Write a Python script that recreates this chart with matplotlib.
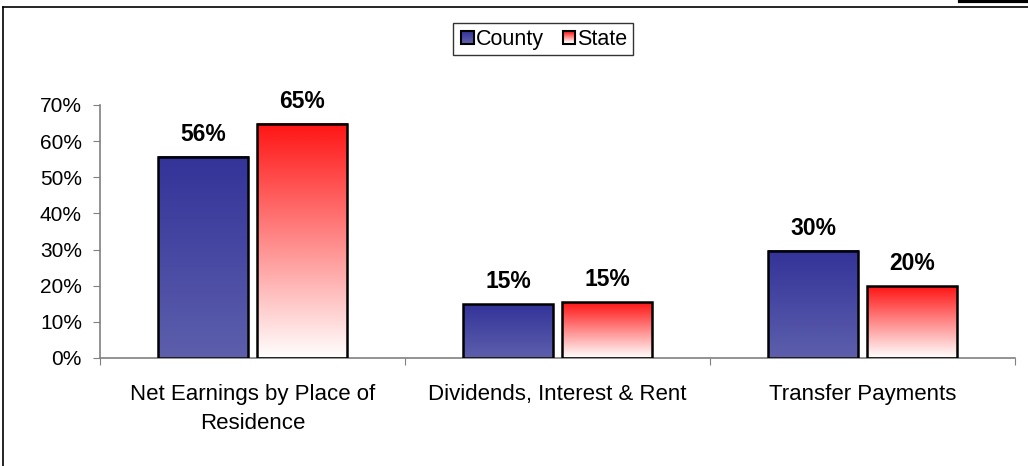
import numpy as np
import matplotlib
matplotlib.use("Agg")
import matplotlib.pyplot as plt
from matplotlib.patches import Rectangle
from matplotlib.lines import Line2D
from matplotlib.legend_handler import HandlerBase
from matplotlib.colors import LinearSegmentedColormap

plt.rcParams['font.family'] = ['Liberation Sans', 'DejaVu Sans']

categories = ["Net Earnings by Place of\nResidence",
              "Dividends, Interest & Rent",
              "Transfer Payments"]
county = [55.7, 14.8, 29.7]
state = [64.8, 15.4, 19.8]
county_labels = ["56%", "15%", "30%"]
state_labels = ["65%", "15%", "20%"]
yticks = [0, 10, 20, 30, 40, 50, 60, 70]

# gradients (bottom colour -> top colour)
county_cmap = LinearSegmentedColormap.from_list("cty", ["#5d5fac", "#333399"])
state_cmap = LinearSegmentedColormap.from_list("st", ["#ffffff", "#ff1414"])


class GradientHandler(HandlerBase):
    def __init__(self, cmap):
        super().__init__()
        self.cmap = cmap

    def create_artists(self, legend, orig_handle, xdescent, ydescent,
                       width, height, fontsize, trans):
        side = height * 0.85
        x0 = -xdescent + width - side
        y0 = -ydescent + (height - side) / 2
        arts = []
        n = 12
        for i in range(n):
            arts.append(Rectangle((x0, y0 + side * i / n), side, side / n + 0.01,
                                  facecolor=self.cmap(i / (n - 1)), edgecolor="none",
                                  transform=trans))
        arts.append(Rectangle((x0, y0), side, side, facecolor="none",
                              edgecolor="black", lw=1.5, transform=trans))
        return arts


fig = plt.figure(figsize=(10.28, 4.66), dpi=100)
ax = fig.add_axes([0.0973, 0.2318, 0.8905, 0.5429])

x = np.arange(len(categories))
w = 0.295
off = 0.162

grad = np.linspace(0, 1, 256).reshape(-1, 1)
for xs, vals, cmap in [(x - off, county, county_cmap), (x + off, state, state_cmap)]:
    bars = ax.bar(xs, vals, w, facecolor="none", edgecolor="black", lw=1.8, zorder=3)
    for b in bars:
        x0, x1 = b.get_x(), b.get_x() + b.get_width()
        ax.imshow(grad, cmap=cmap, extent=(x0, x1, 0, b.get_height()),
                  aspect="auto", origin="lower", zorder=2, interpolation="bicubic")

for xs, vals, labs in [(x - off, county, county_labels), (x + off, state, state_labels)]:
    for xi, v, lab in zip(xs, vals, labs):
        ax.annotate(lab, (xi, v), xytext=(0, 8), textcoords="offset points",
                    ha="center", va="bottom", fontsize=16.5, fontweight="bold")

ax.set_xlim(-0.5, 2.5)
ax.set_ylim(0, 70)
ax.set_yticks(yticks)
ax.set_yticklabels([f"{t}%" for t in yticks], fontsize=15)
ax.set_xticks([-0.5, 0.5, 1.5, 2.5])
ax.set_xticklabels([])
ax.set_xticks(x, minor=True)
ax.set_xticklabels(categories, minor=True, fontsize=16, linespacing=1.45)
ax.tick_params(axis="x", which="minor", length=0, pad=19)
ax.tick_params(axis="x", which="major", length=5, color="#808080", direction="out")
ax.tick_params(axis="y", length=5, color="#808080", pad=8)
for s in ["top", "right"]:
    ax.spines[s].set_visible(False)
for s in ["left", "bottom"]:
    ax.spines[s].set_color("#808080")
    ax.spines[s].set_linewidth(1.2)

h1 = Rectangle((0, 0), 1, 1)
h2 = Rectangle((0, 0), 1, 1)
leg = fig.legend([h1, h2], ["County", "State"], loc="center",
                 bbox_to_anchor=(0.528, 0.916), ncol=2, fontsize=15.5,
                 handler_map={h1: GradientHandler(county_cmap), h2: GradientHandler(state_cmap)},
                 handlelength=0.75, handletextpad=0.1, columnspacing=0.7,
                 borderpad=0.25, frameon=True, fancybox=False)
leg.get_frame().set_edgecolor("black")
leg.get_frame().set_linewidth(1.0)

# outer chart frame
fig.add_artist(Line2D([0.003, 1.0], [0.984, 0.984], color="black", lw=1.2))
fig.add_artist(Line2D([0.003, 0.003], [0.0, 0.984], color="black", lw=1.2))
fig.add_artist(Line2D([0.934, 1.0], [0.998, 0.998], color="black", lw=3))

fig.savefig("out.png", dpi=100)
